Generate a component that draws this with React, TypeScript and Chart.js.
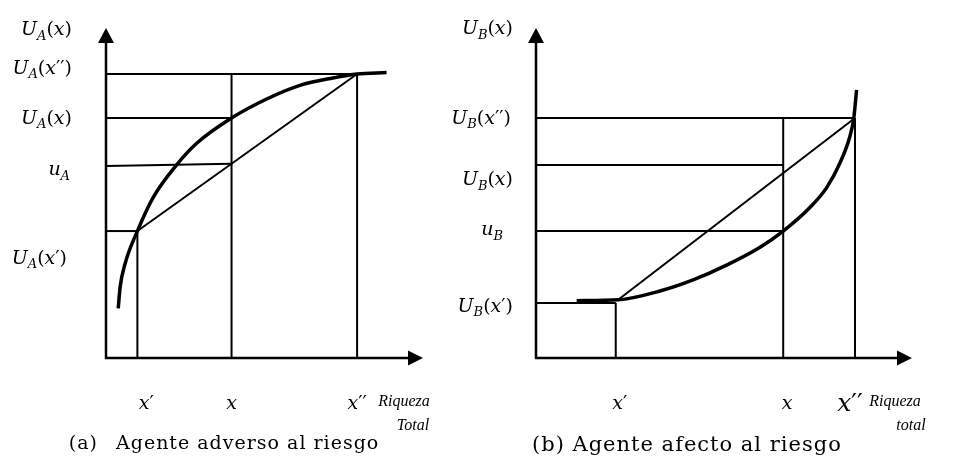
import React, { useEffect, useRef } from "react";
import { Chart, registerables } from "chart.js";
Chart.register(...registerables);

// ---------------- Panel (a): Agente adverso al riesgo ----------------
const A_X_VALUES = [1, 4, 8]; // x', x, x''
const A_X_MAX = 10.1;
const A_Y_MAX = 11.62;
const A_CURVE_X = [0.39, 0.45, 0.61, 1.0, 1.5, 2.25, 2.89, 4.0, 5.12, 6.18, 7.23, 8.0, 8.94];
const A_CURVE_Y = [1.75, 2.5, 3.33, 4.47, 5.65, 6.8, 7.56, 8.45, 9.12, 9.6, 9.86, 10.0, 10.05];
const A_U_PRIME = 4.47; // U_A(x')
const A_U_EXP = [6.76, 6.84]; // u_A (drawn slightly sloped)
const A_U_MEAN = 8.45; // U_A(x)
const A_U_DPRIME = 10.0; // U_A(x'')

// ---------------- Panel (b): Agente afecto al riesgo ----------------
const B_X_VALUES = [2, 6.2, 8]; // x', x, x''
const B_X_MAX = 9.43;
const B_Y_MAX = 11.62;
const B_CURVE_X = [1.02, 2.06, 3.11, 3.94, 4.78, 5.62, 6.2, 6.87, 7.29, 7.62, 7.87, 7.97, 8.04];
const B_CURVE_Y = [2.02, 2.05, 2.36, 2.75, 3.27, 3.9, 4.47, 5.3, 6.0, 6.86, 7.79, 8.45, 9.44];
const B_CHORD_START = [2.06, 2.05];
const B_U_PRIME = 1.94; // U_B(x')
const B_U_EXP = 4.47; // u_B
const B_U_MEAN = 6.8; // U_B(x)
const B_U_DPRIME = 8.45; // U_B(x'')

const MATH_FONT = '"DejaVu Serif"';
const TITLE_FONT = '"Liberation Serif"';
const CAPTION_FONT = '"DejaVu Serif"';

type Seg = { t: string; it?: boolean; sub?: boolean };
type YLabel = { segs: Seg[]; y: number; dx: number };
type XLabel = { segs: Seg[]; x: number; dx: number; size?: number };

const U = (sub: string, primes: string): Seg[] => [
  { t: "U", it: true },
  { t: sub, it: true, sub: true },
  { t: "(" },
  { t: "x", it: true },
  ...(primes ? [{ t: primes }] : []),
  { t: ")" },
];
const u = (sub: string): Seg[] => [
  { t: "u", it: true },
  { t: sub, it: true, sub: true },
];
const X = (primes: string): Seg[] => [{ t: "x", it: true }, ...(primes ? [{ t: primes }] : [])];

const A_Y_LABELS: YLabel[] = [
  { segs: U("A", ""), y: 11.62, dx: -34 },
  { segs: U("A", "′′"), y: 10.25, dx: -34 },
  { segs: U("A", ""), y: 8.49, dx: -34 },
  { segs: u("A"), y: 6.69, dx: -36 },
  { segs: U("A", "′"), y: 3.56, dx: -39 },
];
const B_Y_LABELS: YLabel[] = [
  { segs: U("B", ""), y: 11.65, dx: -23 },
  { segs: U("B", "′′"), y: 8.49, dx: -25 },
  { segs: U("B", ""), y: 6.34, dx: -23 },
  { segs: u("B"), y: 4.58, dx: -33 },
  { segs: U("B", "′"), y: 1.87, dx: -23 },
];
const A_X_LABELS: XLabel[] = [
  { segs: X("′"), x: A_X_VALUES[0], dx: 9 },
  { segs: X(""), x: A_X_VALUES[1], dx: 0 },
  { segs: X("′′"), x: A_X_VALUES[2], dx: 0 },
];
const B_X_LABELS: XLabel[] = [
  { segs: X("′"), x: B_X_VALUES[0], dx: 4 },
  { segs: X(""), x: B_X_VALUES[1], dx: 4 },
  { segs: [{ t: "x", it: true }, { t: "′′" }], x: B_X_VALUES[2], dx: -5, size: 25 },
];

type Caption = { label: string; labelRight: number; text: string; textX: number; y: number; size: number };
type PanelSpec = {
  xMax: number;
  yMax: number;
  padding: { left: number; right: number; top: number; bottom: number };
  curve: { x: number; y: number }[];
  chord: { x: number; y: number }[];
  guides: { x: number; y: number }[][];
  yLabels: YLabel[];
  xLabels: XLabel[];
  axisTitle: [string, string];
  axisTitleDx: [number, number];
  caption: Caption;
};

const pts = (xs: number[], ys: number[]) => xs.map((x, i) => ({ x, y: ys[i] }));

const PANEL_A: PanelSpec = {
  xMax: A_X_MAX,
  yMax: A_Y_MAX,
  padding: { left: 106, right: 54, top: 28, bottom: 102 },
  curve: pts(A_CURVE_X, A_CURVE_Y),
  chord: [
    { x: A_X_VALUES[0], y: A_U_PRIME },
    { x: A_X_VALUES[2], y: A_U_DPRIME },
  ],
  guides: [
    [{ x: 0, y: A_U_DPRIME }, { x: A_X_VALUES[2], y: A_U_DPRIME }],
    [{ x: 0, y: A_U_MEAN }, { x: A_X_VALUES[1], y: A_U_MEAN }],
    [{ x: 0, y: A_U_EXP[0] }, { x: A_X_VALUES[1], y: A_U_EXP[1] }],
    [{ x: 0, y: A_U_PRIME }, { x: A_X_VALUES[0], y: A_U_PRIME }],
    [{ x: A_X_VALUES[0], y: 0 }, { x: A_X_VALUES[0], y: A_U_PRIME }],
    [{ x: A_X_VALUES[1], y: 0 }, { x: A_X_VALUES[1], y: A_U_DPRIME }],
    [{ x: A_X_VALUES[2], y: 0 }, { x: A_X_VALUES[2], y: A_U_DPRIME }],
  ],
  yLabels: A_Y_LABELS,
  xLabels: A_X_LABELS,
  axisTitle: ["Riqueza", "Total"],
  axisTitleDx: [-19, -10],
  caption: { label: "(a)", labelRight: 98, text: "Agente adverso al riesgo", textX: 116, y: 444, size: 19 },
};

const PANEL_B: PanelSpec = {
  xMax: B_X_MAX,
  yMax: B_Y_MAX,
  padding: { left: 116, right: 42, top: 28, bottom: 102 },
  curve: pts(B_CURVE_X, B_CURVE_Y),
  chord: [
    { x: B_CHORD_START[0], y: B_CHORD_START[1] },
    { x: B_X_VALUES[2], y: B_U_DPRIME },
  ],
  guides: [
    [{ x: 0, y: B_U_DPRIME }, { x: B_X_VALUES[2], y: B_U_DPRIME }],
    [{ x: 0, y: B_U_MEAN }, { x: B_X_VALUES[1], y: B_U_MEAN }],
    [{ x: 0, y: B_U_EXP }, { x: B_X_VALUES[1], y: B_U_EXP }],
    [{ x: 0, y: B_U_PRIME }, { x: B_X_VALUES[0], y: B_U_PRIME }],
    [{ x: B_X_VALUES[0], y: 0 }, { x: B_X_VALUES[0], y: B_U_PRIME }],
    [{ x: B_X_VALUES[1], y: 0 }, { x: B_X_VALUES[1], y: B_U_DPRIME }],
    [{ x: B_X_VALUES[2], y: 0 }, { x: B_X_VALUES[2], y: B_U_DPRIME }],
  ],
  yLabels: B_Y_LABELS,
  xLabels: B_X_LABELS,
  axisTitle: ["Riqueza", "total"],
  axisTitleDx: [-17, -1],
  caption: { label: "(b)", labelRight: 0, text: "Agente afecto al riesgo", textX: 112, y: 446, size: 21 },
};

function drawRich(ctx: CanvasRenderingContext2D, segs: Seg[], x: number, cy: number, align: string, size: number) {
  const fontOf = (s: Seg) => `${s.it ? "italic " : ""}${s.sub ? Math.round(size * 0.7) : size}px ${MATH_FONT}`;
  const widths = segs.map((s) => {
    ctx.font = fontOf(s);
    return ctx.measureText(s.t).width;
  });
  const total = widths.reduce((a, b) => a + b, 0);
  let cx = align === "right" ? x - total : align === "center" ? x - total / 2 : x;
  const base = cy + size * 0.36;
  ctx.textAlign = "left";
  ctx.textBaseline = "alphabetic";
  segs.forEach((s, i) => {
    ctx.font = fontOf(s);
    ctx.fillText(s.t, cx, base + (s.sub ? size * 0.25 : 0));
    cx += widths[i];
  });
}

function diagramPlugin(spec: PanelSpec) {
  return {
    id: "diagram",
    afterDatasetsDraw(chart: any) {
      const { ctx } = chart;
      const xs = chart.scales.x;
      const ys = chart.scales.y;
      const ox = xs.getPixelForValue(0);
      const oy = ys.getPixelForValue(0);
      const tx = xs.getPixelForValue(xs.max);
      const ty = ys.getPixelForValue(ys.max);
      ctx.save();
      ctx.strokeStyle = "#000";
      ctx.fillStyle = "#000";
      ctx.lineWidth = 2.5;
      ctx.lineCap = "square";
      ctx.beginPath();
      ctx.moveTo(ox, oy);
      ctx.lineTo(ox, ty + 12);
      ctx.moveTo(ox, oy);
      ctx.lineTo(tx - 12, oy);
      ctx.stroke();
      ctx.beginPath();
      ctx.moveTo(ox, ty);
      ctx.lineTo(ox - 8, ty + 15);
      ctx.lineTo(ox + 8, ty + 15);
      ctx.closePath();
      ctx.fill();
      ctx.beginPath();
      ctx.moveTo(tx, oy);
      ctx.lineTo(tx - 15, oy - 7.5);
      ctx.lineTo(tx - 15, oy + 7.5);
      ctx.closePath();
      ctx.fill();

      spec.yLabels.forEach((l) => drawRich(ctx, l.segs, ox + l.dx, ys.getPixelForValue(l.y), "right", 19));
      spec.xLabels.forEach((l) => drawRich(ctx, l.segs, xs.getPixelForValue(l.x) + l.dx, oy + 44, "center", l.size || 19));

      ctx.font = `italic 16px ${TITLE_FONT}`;
      ctx.textAlign = "center";
      ctx.textBaseline = "middle";
      ctx.fillText(spec.axisTitle[0], tx + spec.axisTitleDx[0], oy + 44);
      ctx.fillText(spec.axisTitle[1], tx + spec.axisTitleDx[1], oy + 68);

      const c = spec.caption;
      ctx.font = `${c.size}px ${CAPTION_FONT}`;
      ctx.textBaseline = "middle";
      (ctx as any).letterSpacing = "1px";
      if (c.labelRight > 0) {
        ctx.textAlign = "right";
        ctx.fillText(c.label, c.labelRight, c.y);
        ctx.textAlign = "left";
        ctx.fillText(c.text, c.textX, c.y);
      } else {
        ctx.textAlign = "left";
        ctx.fillText(`${c.label} ${c.text}`, c.textX, c.y);
      }
      (ctx as any).letterSpacing = "0px";
      ctx.restore();
    },
  };
}

function buildConfig(spec: PanelSpec): any {
  const line = (data: { x: number; y: number }[], width: number, extra: any = {}) => ({
    data,
    showLine: true,
    borderColor: "#000",
    backgroundColor: "#000",
    borderWidth: width,
    pointRadius: 0,
    pointHoverRadius: 0,
    clip: false,
    fill: false,
    ...extra,
  });
  return {
    type: "scatter",
    data: {
      datasets: [
        line(spec.curve, 3.5, { cubicInterpolationMode: "monotone", borderCapStyle: "butt" }),
        line(spec.chord, 2),
        ...spec.guides.map((g) => line(g, 2)),
      ],
    },
    options: {
      responsive: false,
      animation: false,
      devicePixelRatio: 1,
      events: [],
      layout: { padding: spec.padding },
      plugins: { legend: { display: false }, tooltip: { enabled: false } },
      scales: {
        x: { type: "linear", min: 0, max: spec.xMax, display: false },
        y: { type: "linear", min: 0, max: spec.yMax, display: false },
      },
    },
    plugins: [diagramPlugin(spec)],
  };
}

export default function App() {
  const refA = useRef<HTMLCanvasElement>(null);
  const refB = useRef<HTMLCanvasElement>(null);
  useEffect(() => {
    const a = new Chart(refA.current as HTMLCanvasElement, buildConfig(PANEL_A));
    const b = new Chart(refB.current as HTMLCanvasElement, buildConfig(PANEL_B));
    return () => {
      a.destroy();
      b.destroy();
    };
  }, []);
  return (
    <div style={{ position: "absolute", left: 0, top: 0, width: 954, height: 460, background: "#fff" }}>
      <canvas ref={refA} width={477} height={460} style={{ position: "absolute", left: 0, top: 0 }} />
      <canvas ref={refB} width={534} height={460} style={{ position: "absolute", left: 420, top: 0 }} />
    </div>
  );
}
